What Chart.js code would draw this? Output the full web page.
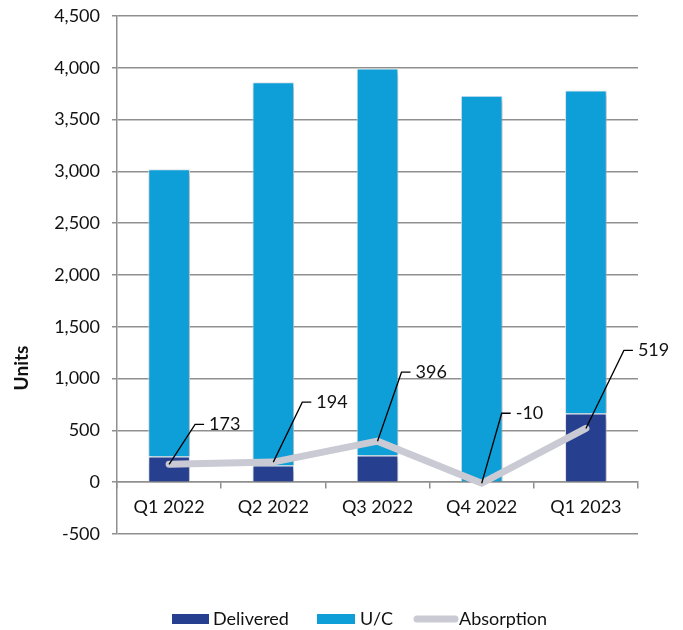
<!DOCTYPE html>
<html>
<head>
<meta charset="utf-8">
<title>Units</title>
<script src="https://cdn.jsdelivr.net/npm/chart.js@4.4.1/dist/chart.umd.min.js"></script>
<style>
  html, body { margin: 0; padding: 0; background: #fff; }
  #wrap { width: 683px; height: 630px; position: relative; }
</style>
</head>
<body>
<div id="wrap"><canvas id="unitsChart"></canvas></div>
<script>
const quarters = ['Q1 2022', 'Q2 2022', 'Q3 2022', 'Q4 2022', 'Q1 2023'];
const delivered = [248, 160, 258, 0, 662];
const underConstruction = [2772, 3700, 3735, 3730, 3120];
const absorption = [173, 194, 396, -10, 519];
const yTickValues = [-500, 0, 500, 1000, 1500, 2000, 2500, 3000, 3500, 4000, 4500];

const FONT = 'Lato, "Open Sans", sans-serif';
const GRID = '#8f8f8f';
const DARK = '#263f8f';
const LIGHT = '#0e9fd8';
const GREY = '#c9cad3';

Chart.defaults.font.family = FONT;
Chart.defaults.font.size = 18;
Chart.defaults.color = '#111';

// soft drop shadow under the bars
const barShadow = {
    id: 'barShadow',
    beforeDatasetDraw(chart, args) {
        if (args.meta.type !== 'bar') return;
        const ctx = chart.ctx;
        ctx.save();
        ctx.shadowColor = 'rgba(0,0,0,0.28)';
        ctx.shadowBlur = 5;
        ctx.shadowOffsetX = 2;
        ctx.shadowOffsetY = 3;
    },
    afterDatasetDraw(chart, args) {
        if (args.meta.type !== 'bar') return;
        chart.ctx.restore();
    }
};

// leader lines + value labels for the absorption line
const callouts = {
    id: 'callouts',
    afterDatasetsDraw(chart, args, opts) {
        const idx = chart.data.datasets.findIndex(d => d.type === 'line');
        const meta = chart.getDatasetMeta(idx);
        const values = chart.data.datasets[idx].data;
        const ctx = chart.ctx;
        ctx.save();
        ctx.strokeStyle = '#000';
        ctx.lineWidth = 1.3;
        ctx.fillStyle = '#111';
        ctx.font = '18px ' + FONT;
        ctx.textAlign = 'left';
        ctx.textBaseline = 'middle';
        meta.data.forEach((pt, i) => {
            const [dx, dy] = opts.offsets[i];
            const ex = pt.x + dx, ey = pt.y + dy;
            ctx.beginPath();
            ctx.moveTo(pt.x, pt.y);
            ctx.lineTo(ex, ey);
            ctx.lineTo(ex + 9, ey);
            ctx.stroke();
            ctx.fillText(String(values[i]), ex + 14, ey);
        });
        ctx.restore();
    }
};

// axis title and legend
const extras = {
    id: 'extras',
    afterDraw(chart) {
        const ctx = chart.ctx;
        ctx.save();
        ctx.fillStyle = '#111';
        ctx.font = 'bold 19px ' + FONT;
        ctx.textAlign = 'center';
        ctx.textBaseline = 'middle';
        ctx.translate(22, 368);
        ctx.rotate(-Math.PI / 2);
        ctx.fillText('Units', 0, 0);
        ctx.restore();

        ctx.save();
        ctx.font = '18px ' + FONT;
        ctx.textBaseline = 'middle';
        const y = 619;
        ctx.fillStyle = DARK;
        ctx.fillRect(172, y - 5, 37, 10);
        ctx.fillStyle = '#111';
        ctx.fillText('Delivered', 213, y);
        ctx.fillStyle = LIGHT;
        ctx.fillRect(317, y - 5, 38, 10);
        ctx.fillStyle = '#111';
        ctx.fillText('U/C', 360, y);
        ctx.strokeStyle = GREY;
        ctx.lineWidth = 7;
        ctx.lineCap = 'round';
        ctx.beginPath();
        ctx.moveTo(417, y);
        ctx.lineTo(455, y);
        ctx.stroke();
        ctx.fillStyle = '#111';
        ctx.fillText('Absorption', 459, y);
        ctx.restore();
    }
};

new Chart(document.getElementById('unitsChart'), {
    data: {
        labels: quarters,
        datasets: [
            {
                type: 'line',
                label: 'Absorption',
                data: absorption,
                stack: 'abs',
                order: 0,
                borderColor: GREY,
                borderWidth: 7,
                borderCapStyle: 'round',
                borderJoinStyle: 'miter',
                pointRadius: 0,
                tension: 0
            },
            {
                type: 'bar',
                label: 'Delivered',
                data: delivered,
                stack: 'units',
                order: 1,
                backgroundColor: DARK,
                borderColor: '#e4e8ee',
                borderWidth: 1,
                barPercentage: 0.4,
                categoryPercentage: 1
            },
            {
                type: 'bar',
                label: 'U/C',
                data: underConstruction,
                stack: 'units',
                order: 2,
                backgroundColor: LIGHT,
                borderColor: '#e4e8ee',
                borderWidth: 1,
                barPercentage: 0.4,
                categoryPercentage: 1
            }
        ]
    },
    options: {
        responsive: true,
        maintainAspectRatio: false,
        animation: false,
        layout: { padding: { left: 0, right: 45, top: 16, bottom: 96 } },
        plugins: {
            legend: { display: false },
            tooltip: { enabled: false },
            callouts: { offsets: [[26, -40], [29, -60], [24, -69], [20, -70], [38, -78]] }
        },
        scales: {
            x: {
                stacked: true,
                position: { y: 0 },
                grid: {
                    drawOnChartArea: false,
                    offset: true,
                    color: GRID,
                    lineWidth: 1.5,
                    tickLength: 6
                },
                border: { color: GRID, width: 1.5 },
                ticks: { padding: 8, maxRotation: 0 }
            },
            y: {
                stacked: true,
                min: -500,
                max: 4500,
                afterBuildTicks(scale) {
                    scale.ticks = yTickValues.map(v => ({ value: v }));
                },
                afterFit(scale) {
                    scale.width = 117;
                    scale.paddingTop = 0;
                    scale.paddingBottom = 0;
                },
                grid: { color: GRID, lineWidth: 1.5, tickLength: 5 },
                border: { color: GRID, width: 1.5 },
                ticks: {
                    padding: 12,
                    callback: v => v.toLocaleString('en-US')
                }
            }
        }
    },
    plugins: [barShadow, callouts, extras]
});
</script>
</body>
</html>
